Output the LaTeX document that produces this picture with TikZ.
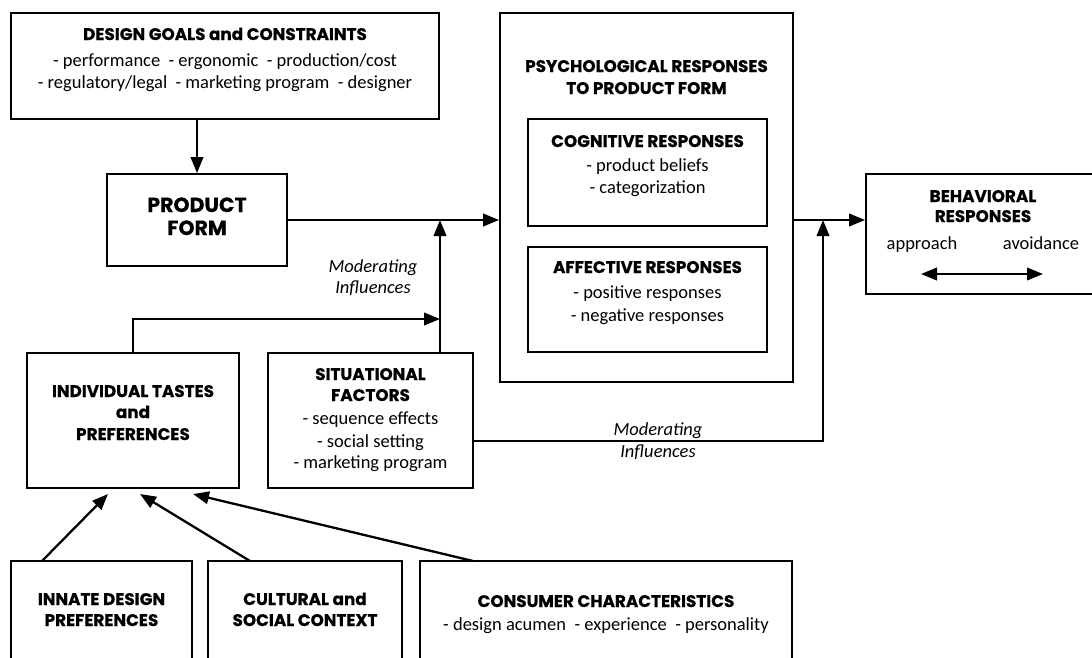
\documentclass[tikz,border=0pt]{standalone}
\usepackage{fontspec}
\setmainfont{Carlito}
\newfontfamily\tfont{Poppins}[BoldFeatures={FakeBold=0.5}]
\usetikzlibrary{arrows.meta,calc}
\tikzset{
  box/.style={draw, line width=1.9pt, inner sep=0pt, fill=none},
  ttl/.style={anchor=base, inner sep=0pt, font=\tfont\bfseries\fontsize{16.8}{19}\selectfont},
  big/.style={anchor=base, inner sep=0pt, font=\tfont\bfseries\fontsize{20.5}{23}\selectfont},
  txt/.style={anchor=base, inner sep=0pt, font=\fontsize{18.5}{22}\selectfont},
  itx/.style={anchor=base, inner sep=0pt, font=\itshape\fontsize{18.5}{22}\selectfont},
  tip/.tip={Triangle[length=16pt,width=12.5pt]},
  arr/.style={line width=2.3pt, -tip},
  dbl/.style={line width=2.3pt, tip-tip}
}
\begin{document}
\begin{tikzpicture}[x=1pt,y=-1pt]
\useasboundingbox (0,0) rectangle (1092,657);
\clip (0,0) rectangle (1092,657);
\fill[white] (0,0) rectangle (1092,657);
% boxes
\node[box, minimum width=428pt, minimum height=106pt] (design) at (225,66) {};
\node[box, minimum width=180pt, minimum height=92pt] (prod) at (197,220) {};
\node[box, minimum width=293pt, minimum height=369pt] (psych) at (646.5,197.5) {};
\node[box, minimum width=239pt, minimum height=107pt] (cog) at (647.5,172.5) {};
\node[box, minimum width=239pt, minimum height=105pt] (aff) at (647.5,299.5) {};
\node[box, minimum width=234pt, minimum height=120pt] (behav) at (983,234) {};
\node[box, minimum width=212pt, minimum height=135pt] (indiv) at (133,420.5) {};
\node[box, minimum width=205pt, minimum height=135pt] (situ) at (370.5,420.5) {};
\node[box, minimum width=181pt, minimum height=139pt] (innate) at (101.5,630.5) {};
\node[box, minimum width=194pt, minimum height=139pt] (cult) at (305,630.5) {};
\node[box, minimum width=372pt, minimum height=139pt] (cons) at (606,630.5) {};
% texts
\node[ttl] (d1) at (225,40) {DESIGN GOALS and CONSTRAINTS};
\node[txt] (d2) at (225,66) {- performance\ \ - ergonomic\ \ - production/cost};
\node[txt] (d3) at (225,88) {- regulatory/legal\ \ - marketing program\ \ - designer};
\node[big] (p1) at (197,212) {PRODUCT};
\node[big] (p2) at (197,235) {FORM};
\node[ttl] (ps1) at (646.5,72) {PSYCHOLOGICAL RESPONSES};
\node[ttl] (ps2) at (646.5,94) {TO PRODUCT FORM};
\node[ttl] (c1) at (647.5,147) {COGNITIVE RESPONSES};
\node[txt] (c2) at (647.5,171) {- product beliefs};
\node[txt] (c3) at (647.5,193) {- categorization};
\node[ttl] (a1) at (647.5,273) {AFFECTIVE RESPONSES};
\node[txt] (a2) at (647.5,298) {- positive responses};
\node[txt] (a3) at (647.5,321) {- negative responses};
\node[ttl] (b1) at (983,202) {BEHAVIORAL};
\node[ttl] (b2) at (983,222) {RESPONSES};
\node[txt] (b3) at (922,249) {approach};
\node[txt] (b4) at (1041,249) {avoidance};
\node[itx] (m1) at (373,272) {Moderating};
\node[itx] (m2) at (373,293) {Influences};
\node[ttl] (i1) at (133,397) {INDIVIDUAL TASTES};
\node[ttl] (i2) at (133,418) {and};
\node[ttl] (i3) at (133,440) {PREFERENCES};
\node[ttl] (s1) at (370.5,380) {SITUATIONAL};
\node[ttl] (s2) at (370.5,401) {FACTORS};
\node[txt] (s3) at (370.5,424) {- sequence effects};
\node[txt] (s4) at (370.5,447) {- social setting};
\node[txt] (s5) at (370.5,468) {- marketing program};
\node[itx] (m3) at (658,435) {Moderating};
\node[itx] (m4) at (658,457) {Influences};
\node[ttl] (n1) at (101.5,605) {INNATE DESIGN};
\node[ttl] (n2) at (101.5,626) {PREFERENCES};
\node[ttl] (k1) at (305,605) {CULTURAL and};
\node[ttl] (k2) at (305,626) {SOCIAL CONTEXT};
\node[ttl] (co1) at (606,607) {CONSUMER CHARACTERISTICS};
\node[txt] (co2) at (606,630) {- design acumen\ \ - experience\ \ - personality};
% junction coordinates
\coordinate (j1) at (440,220);
\coordinate (j2) at (440,319);
\coordinate (j3) at (823,220);
\coordinate (j4) at (823,441);
\coordinate (da1) at (921,274);
\coordinate (da2) at (1043,274);
\coordinate (e1) at (42,561);
\coordinate (t1) at (108,494);
\coordinate (e2) at (250,561);
\coordinate (t2) at (140,494);
\coordinate (e3) at (473,561);
\coordinate (t3) at (193,494);
% connectors
\draw[arr] (prod.north |- design.south) -- (prod.north);
\draw[arr] (prod.east |- j1) -- (j1 -| psych.west);
\draw[arr] (situ.north -| j1) -- (j1);
\draw[arr] (indiv.north) |- (j2);
\draw[arr] (j3 -| psych.east) -- (j3 -| behav.west);
\draw[arr] (j4 -| situ.east) -- (j4) -- (j3);
\draw[dbl] (da1) -- (da2);
\draw[arr] (e1) -- (t1);
\draw[arr] (e2) -- (t2);
\draw[arr] (e3) -- (t3);
\end{tikzpicture}
\end{document}
